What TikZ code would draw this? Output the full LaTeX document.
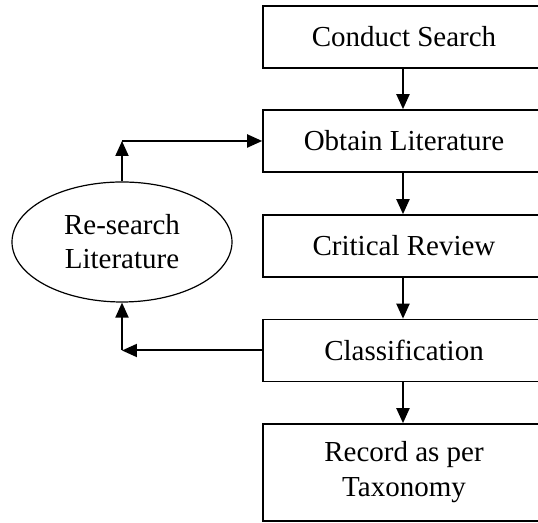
\documentclass[tikz,border=0pt]{standalone}
\usepackage{fontspec}
\setmainfont{Liberation Serif}
\usetikzlibrary{arrows.meta,shapes.geometric}

\tikzset{
  stepbox/.style={draw,line width=0.8pt,minimum width=141pt,minimum height=31pt,
    inner sep=2pt,align=center,font=\fontsize{14.5}{17.5}\selectfont},
  loopnode/.style={draw,ellipse,line width=0.6pt,minimum width=110pt,minimum height=60pt,
    inner sep=0pt,align=center,font=\fontsize{14.5}{17}\selectfont},
  flow/.style={line width=1pt,-{Triangle[length=7.5pt,width=6.5pt]}}
}

\begin{document}
\begin{tikzpicture}[x=0.5pt,y=0.5pt]
\useasboundingbox (0,0) rectangle (538,523);
\clip (0,0) rectangle (538,523);
% main column
\node[stepbox] (search) at (404,486) {Conduct Search};
\node[stepbox] (obtain) at (404,382) {Obtain Literature};
\node[stepbox] (review) at (404,277) {Critical Review};
\node[stepbox] (classify) at (404,172.5) {Classification};
\node[stepbox,minimum height=48.5pt] (record) at (404,50.5) {Record as per\\Taxonomy};
% loop back
\node[loopnode] (research) at (122,281) {Re-search\\Literature};
\coordinate (uptop) at (research.north |- obtain.west);
\coordinate (upbot) at (research.south |- classify.west);
\draw[flow] (search.south -| 403,0) -- (obtain.north -| 403,0);
\draw[flow] (obtain.south -| 403,0) -- (review.north -| 403,0);
\draw[flow] (review.south -| 403,0) -- (classify.north -| 403,0);
\draw[flow] (classify.south -| 403,0) -- (record.north -| 403,0);
\draw[flow] (research.north) -- (uptop);
\draw[flow] (uptop) -- (obtain.west);
\draw[flow] (classify.west) -- (upbot);
\draw[flow] (upbot) -- (research.south);
\end{tikzpicture}
\end{document}
